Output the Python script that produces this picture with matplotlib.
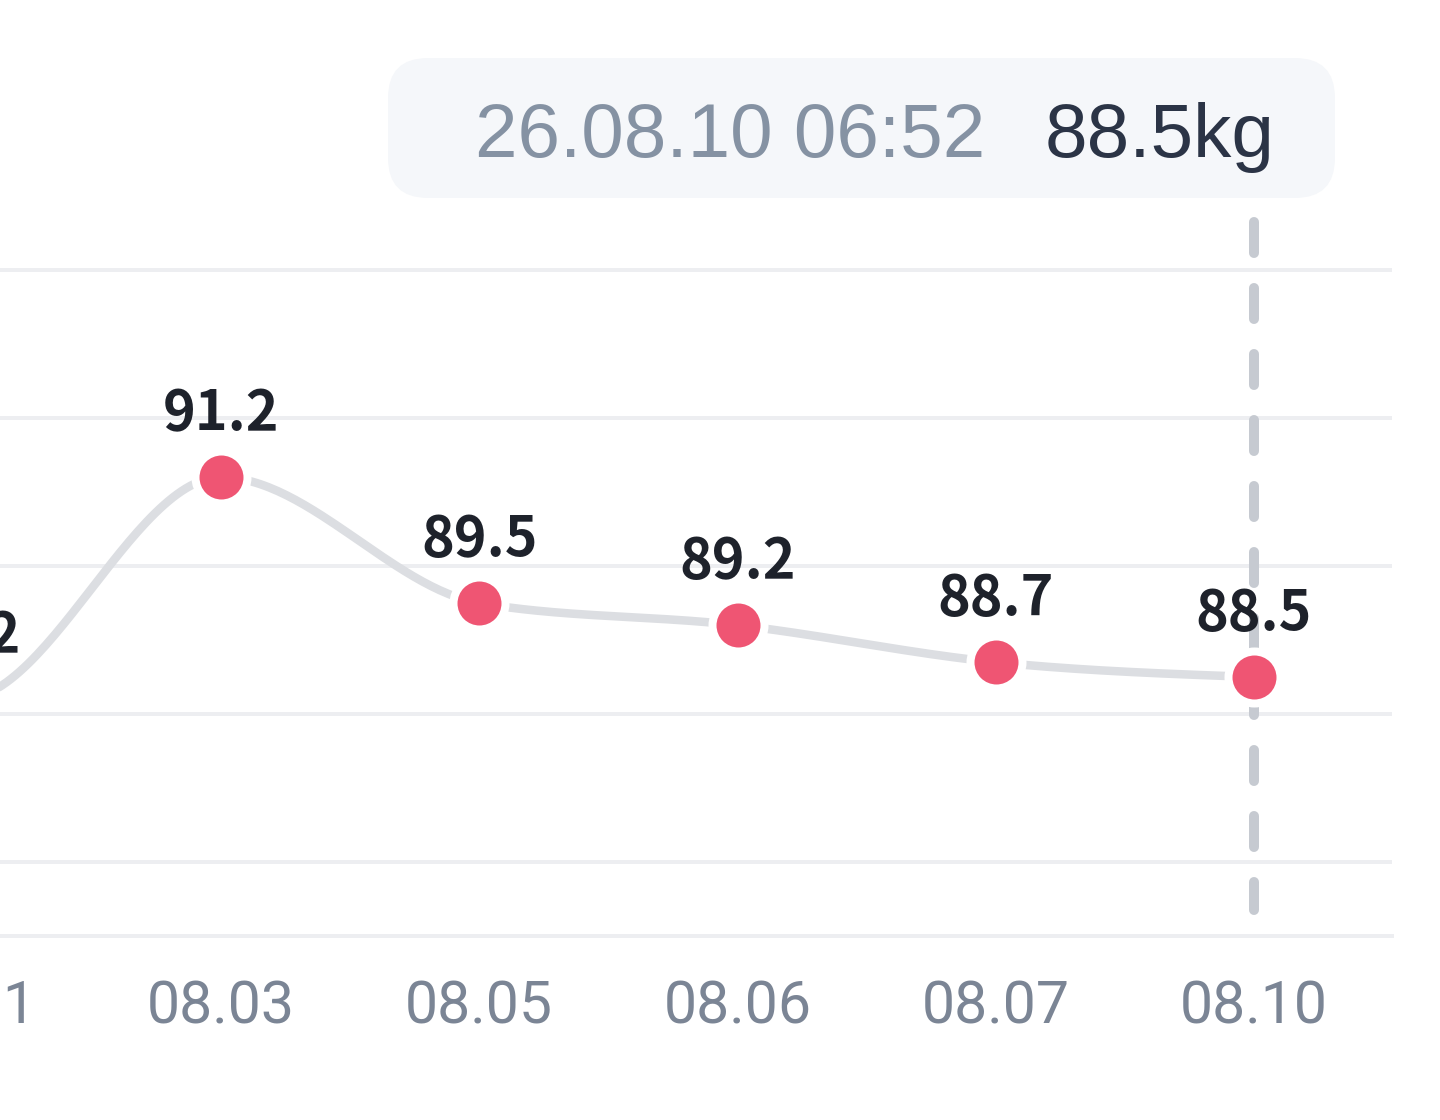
import numpy as np
import matplotlib
matplotlib.use("Agg")
import matplotlib.pyplot as plt
from matplotlib.patches import FancyBboxPatch

# ---- data ----
dates = ["08.01", "08.03", "08.05", "08.06", "08.07", "08.10"]
weights = [88.2, 91.2, 89.5, 89.2, 88.7, 88.5]
grid_values = [86, 88, 90, 92, 94]
tooltip_time = "26.08.10 06:52"
tooltip_value = "88.5kg"
selected_index = 5

# ---- style ----
W, H = 1440, 1120
PT = 72 / 100.0  # points per pixel at dpi 100
LINE_C = "#DCDEE2"
GRID_C = "#EDEEF1"
DOT_C = "#EF5573"
DASH_C = "#C6CAD1"
LABEL_C = "#1E222B"
TICK_C = "#7B8595"


def monotone_curve(x, y, n=60):
    x = np.asarray(x, float)
    y = np.asarray(y, float)
    h = np.diff(x)
    s = np.diff(y) / h
    t = np.zeros(len(y))
    for i in range(1, len(y) - 1):
        p = (s[i - 1] * h[i] + s[i] * h[i - 1]) / (h[i - 1] + h[i])
        t[i] = (np.sign(s[i - 1]) + np.sign(s[i])) * min(abs(s[i - 1]), abs(s[i]), 0.5 * abs(p))
    t[0] = 0.0
    t[-1] = (3 * s[-1] - t[-2]) / 2
    xs, ys = [], []
    for i in range(len(h)):
        u = np.linspace(0, 1, n)
        h00 = 2 * u**3 - 3 * u**2 + 1
        h10 = u**3 - 2 * u**2 + u
        h01 = -2 * u**3 + 3 * u**2
        h11 = u**3 - u**2
        xs.append(x[i] + u * h[i])
        ys.append(h00 * y[i] + h10 * h[i] * t[i] + h01 * y[i + 1] + h11 * h[i] * t[i + 1])
    return np.concatenate(xs), np.concatenate(ys)


fig = plt.figure(figsize=(W / 100, H / 100), dpi=100)
fig.patch.set_facecolor("white")

# axes geometry in pixels
ax_left_px, ax_right_px = -120, 1392
ax_bottom_px, ax_top_px = 936, 200
x0_px, step_px = -37.25, 258.25
ppk = 74.0  # pixels per kg
ymin = 85.0
ymax = ymin + (ax_bottom_px - ax_top_px) / ppk

ax = fig.add_axes([ax_left_px / W, 1 - ax_bottom_px / H,
                   (ax_right_px - ax_left_px) / W, (ax_bottom_px - ax_top_px) / H])
ax.set_xlim((ax_left_px - x0_px) / step_px, (ax_right_px - x0_px) / step_px)
ax.set_ylim(ymin, ymax)
ax.set_facecolor("none")

for sp in ["top", "left", "right"]:
    ax.spines[sp].set_visible(False)
ax.spines["bottom"].set_color(GRID_C)
ax.spines["bottom"].set_linewidth(4 * PT)

ax.set_yticks(grid_values)
ax.tick_params(axis="y", length=0, labelleft=False)
ax.grid(axis="y", color=GRID_C, linewidth=4 * PT, zorder=0)
ax.set_axisbelow(True)

xi = np.arange(len(dates))
ax.set_xticks(xi, dates)
ax.tick_params(axis="x", length=0, pad=87 * PT, labelsize=42.5, labelcolor=TICK_C)
for lbl in ax.get_xticklabels():
    lbl.set_fontfamily("Roboto")
    lbl.set_va("baseline")

# smooth line
cx, cy = monotone_curve(xi, weights)
ax.plot(cx, cy, color=LINE_C, linewidth=8.5 * PT, solid_capstyle="round", zorder=2)

# vertical dashed indicator
lw_d = 10 * PT
y_top = ymin + (ax_bottom_px - 222) / ppk
y_bot = ymin + (ax_bottom_px - 910) / ppk
ax.plot([xi[selected_index]] * 2, [y_top, y_bot], color=DASH_C, linewidth=lw_d,
        linestyle=(0, (31 * PT / lw_d, 35 * PT / lw_d)), dash_capstyle="round", zorder=3)

# markers
ax.plot(xi, weights, "o", markersize=52 * PT, markerfacecolor=DOT_C,
        markeredgecolor="white", markeredgewidth=8 * PT, zorder=5)

# value labels
for i, v in zip(xi, weights):
    ax.annotate(f"{v:.1f}", (i, v), xytext=(0, 47 * PT), textcoords="offset points",
                ha="center", va="baseline", fontsize=40, fontweight="bold",
                family=["Noto Sans CJK SC", "DejaVu Sans"], color=LABEL_C, zorder=6,
                annotation_clip=False)

# tooltip box
def px2in(x, y):
    return x / 100.0, (H - y) / 100.0

bx, by = px2in(388, 198)
box = FancyBboxPatch((bx, by), (1335 - 388) / 100.0, (198 - 58) / 100.0,
                     boxstyle="round,pad=0,rounding_size=0.4",
                     transform=fig.dpi_scale_trans, facecolor="#F5F7FA",
                     edgecolor="none", zorder=1)
fig.patches.append(box)
tx, ty = px2in(985, 157)
fig.text(tx / (W / 100), ty / (H / 100), tooltip_time, ha="right", va="baseline",
         fontsize=55, family="Liberation Sans", color="#8592A3")
tx2, _ = px2in(1045, 157)
fig.text(tx2 / (W / 100), ty / (H / 100), tooltip_value, ha="left", va="baseline",
         fontsize=55, family="Liberation Sans", color="#2B3446")

fig.savefig("out.png", dpi=100, facecolor="white")
